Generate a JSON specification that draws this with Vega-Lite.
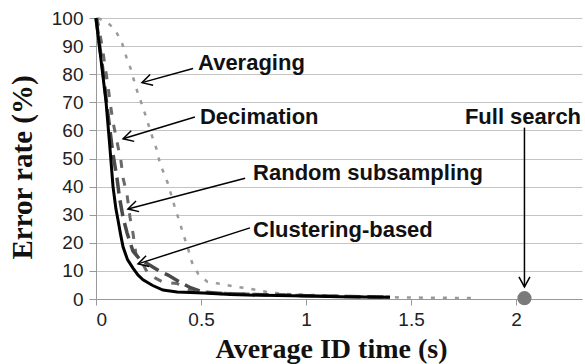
{
  "$schema": "https://vega.github.io/schema/vega-lite/v6.json",
  "width": 486,
  "height": 281,
  "autosize": {"type": "none"},
  "padding": {"left": 96, "top": 18, "right": 3, "bottom": 65},
  "background": "white",
  "config": {
    "view": {"stroke": null},
    "axis": {"labelFont": "Liberation Sans", "labelFontSize": 19, "labelColor": "#222", "titleFont": "Liberation Serif", "titleFontWeight": "bold", "titleColor": "#111", "domainColor": "#999", "tickColor": "#999", "gridColor": "#c4c4c4"},
    "axisX": {"titleFontSize": 28},
    "axisY": {"titleFontSize": 29}
  },
  "datasets": {
    "curves": [
      {"s": "Clustering-based", "t": 0, "e": 100}, {"s": "Clustering-based", "t": 0.024, "e": 85}, {"s": "Clustering-based", "t": 0.048, "e": 70}, {"s": "Clustering-based", "t": 0.065, "e": 55}, {"s": "Clustering-based", "t": 0.081, "e": 40}, {"s": "Clustering-based", "t": 0.095, "e": 32}, {"s": "Clustering-based", "t": 0.105, "e": 28}, {"s": "Clustering-based", "t": 0.117, "e": 23}, {"s": "Clustering-based", "t": 0.129, "e": 18.5}, {"s": "Clustering-based", "t": 0.15, "e": 14}, {"s": "Clustering-based", "t": 0.176, "e": 11}, {"s": "Clustering-based", "t": 0.2, "e": 8.5}, {"s": "Clustering-based", "t": 0.224, "e": 6.8}, {"s": "Clustering-based", "t": 0.27, "e": 4.8}, {"s": "Clustering-based", "t": 0.319, "e": 3.2}, {"s": "Clustering-based", "t": 0.386, "e": 2.5}, {"s": "Clustering-based", "t": 0.45, "e": 2.3}, {"s": "Clustering-based", "t": 0.51, "e": 2.1}, {"s": "Clustering-based", "t": 0.64, "e": 1.6}, {"s": "Clustering-based", "t": 0.8, "e": 1.3}, {"s": "Clustering-based", "t": 1.0, "e": 1.1}, {"s": "Clustering-based", "t": 1.16, "e": 0.8}, {"s": "Clustering-based", "t": 1.4, "e": 0.6},
      {"s": "Random subsampling", "t": 0, "e": 100}, {"s": "Random subsampling", "t": 0.03, "e": 83}, {"s": "Random subsampling", "t": 0.055, "e": 67}, {"s": "Random subsampling", "t": 0.08, "e": 52}, {"s": "Random subsampling", "t": 0.1, "e": 43}, {"s": "Random subsampling", "t": 0.112, "e": 36}, {"s": "Random subsampling", "t": 0.129, "e": 29}, {"s": "Random subsampling", "t": 0.148, "e": 23.5}, {"s": "Random subsampling", "t": 0.176, "e": 17}, {"s": "Random subsampling", "t": 0.21, "e": 14}, {"s": "Random subsampling", "t": 0.257, "e": 12}, {"s": "Random subsampling", "t": 0.3, "e": 10}, {"s": "Random subsampling", "t": 0.343, "e": 8.5}, {"s": "Random subsampling", "t": 0.4, "e": 6}, {"s": "Random subsampling", "t": 0.45, "e": 4}, {"s": "Random subsampling", "t": 0.51, "e": 2.5}, {"s": "Random subsampling", "t": 0.6, "e": 2}, {"s": "Random subsampling", "t": 0.8, "e": 1.5}, {"s": "Random subsampling", "t": 1.0, "e": 1.2}, {"s": "Random subsampling", "t": 1.2, "e": 0.9}, {"s": "Random subsampling", "t": 1.4, "e": 0.7},
      {"s": "Decimation", "t": 0.005, "e": 100}, {"s": "Decimation", "t": 0.029, "e": 90}, {"s": "Decimation", "t": 0.043, "e": 83}, {"s": "Decimation", "t": 0.057, "e": 76}, {"s": "Decimation", "t": 0.067, "e": 70}, {"s": "Decimation", "t": 0.081, "e": 63}, {"s": "Decimation", "t": 0.1, "e": 56}, {"s": "Decimation", "t": 0.119, "e": 49}, {"s": "Decimation", "t": 0.129, "e": 43}, {"s": "Decimation", "t": 0.148, "e": 37}, {"s": "Decimation", "t": 0.162, "e": 29}, {"s": "Decimation", "t": 0.176, "e": 23.5}, {"s": "Decimation", "t": 0.19, "e": 16}, {"s": "Decimation", "t": 0.219, "e": 13}, {"s": "Decimation", "t": 0.248, "e": 9}, {"s": "Decimation", "t": 0.281, "e": 7.5}, {"s": "Decimation", "t": 0.32, "e": 6}, {"s": "Decimation", "t": 0.386, "e": 5.5}, {"s": "Decimation", "t": 0.45, "e": 3}, {"s": "Decimation", "t": 0.55, "e": 2.2}, {"s": "Decimation", "t": 0.7, "e": 1.8}, {"s": "Decimation", "t": 0.9, "e": 1.4}, {"s": "Decimation", "t": 1.1, "e": 1.0}, {"s": "Decimation", "t": 1.4, "e": 0.7},
      {"s": "Averaging", "t": 0.01, "e": 100}, {"s": "Averaging", "t": 0.06, "e": 98}, {"s": "Averaging", "t": 0.09, "e": 96}, {"s": "Averaging", "t": 0.124, "e": 91}, {"s": "Averaging", "t": 0.145, "e": 86}, {"s": "Averaging", "t": 0.165, "e": 82}, {"s": "Averaging", "t": 0.18, "e": 78}, {"s": "Averaging", "t": 0.2, "e": 73}, {"s": "Averaging", "t": 0.215, "e": 70}, {"s": "Averaging", "t": 0.233, "e": 66}, {"s": "Averaging", "t": 0.25, "e": 62}, {"s": "Averaging", "t": 0.271, "e": 57}, {"s": "Averaging", "t": 0.29, "e": 53}, {"s": "Averaging", "t": 0.305, "e": 48}, {"s": "Averaging", "t": 0.322, "e": 45}, {"s": "Averaging", "t": 0.343, "e": 41}, {"s": "Averaging", "t": 0.362, "e": 36}, {"s": "Averaging", "t": 0.378, "e": 32}, {"s": "Averaging", "t": 0.4, "e": 27}, {"s": "Averaging", "t": 0.416, "e": 23}, {"s": "Averaging", "t": 0.438, "e": 18}, {"s": "Averaging", "t": 0.457, "e": 13}, {"s": "Averaging", "t": 0.486, "e": 9}, {"s": "Averaging", "t": 0.529, "e": 6.2}, {"s": "Averaging", "t": 0.59, "e": 5.4}, {"s": "Averaging", "t": 0.648, "e": 4.6}, {"s": "Averaging", "t": 0.7, "e": 4}, {"s": "Averaging", "t": 0.767, "e": 3.2}, {"s": "Averaging", "t": 0.819, "e": 2.4}, {"s": "Averaging", "t": 0.9, "e": 1.8}, {"s": "Averaging", "t": 1.0, "e": 1.5}, {"s": "Averaging", "t": 1.2, "e": 1.0}, {"s": "Averaging", "t": 1.4, "e": 0.6}, {"s": "Averaging", "t": 1.81, "e": 0.3}
    ],
    "labels": [
      {"label": "Averaging", "t": 0.486, "e": 84},
      {"label": "Decimation", "t": 0.495, "e": 64.8},
      {"label": "Random subsampling", "t": 0.748, "e": 45},
      {"label": "Clustering-based", "t": 0.748, "e": 24.6},
      {"label": "Full search", "t": 2.033, "e": 64.8}
    ],
    "arrows": [
      {"label": "Averaging", "t": 0.219, "e": 77, "t2": 0.462, "e2": 82},
      {"label": "Decimation", "t": 0.129, "e": 57, "t2": 0.471, "e2": 64.8},
      {"label": "Random subsampling", "t": 0.152, "e": 32, "t2": 0.71, "e2": 43},
      {"label": "Clustering-based", "t": 0.2, "e": 12.5, "t2": 0.733, "e2": 25.3},
      {"label": "Full search", "t": 2.04, "e": 4.3, "t2": 2.04, "e2": 61}
    ],
    "points": [
      {"label": "Full search", "t": 2.04, "e": 0.3}
    ]
  },
  "encoding": {
    "x": {"field": "t", "type": "quantitative", "scale": {"domain": [0, 2.314], "nice": false}, "axis": {"values": [0, 0.5, 1, 1.5, 2], "format": "~g", "grid": false, "tickSize": 6, "labelPadding": 5, "title": "Average ID time (s)", "titlePadding": 6, "titleX": 235}},
    "y": {"field": "e", "type": "quantitative", "scale": {"domain": [0, 100], "nice": false}, "axis": {"values": [0, 10, 20, 30, 40, 50, 60, 70, 80, 90, 100], "labelOverlap": false, "grid": true, "tickSize": 7, "labelPadding": 6, "title": "Error rate (%)", "titlePadding": 14, "titleY": 149}}
  },
  "layer": [
    {
      "data": {"name": "curves"},
      "transform": [{"filter": "datum.s === 'Averaging'"}],
      "mark": {"type": "line", "color": "#9a9a9a", "strokeWidth": 2.5, "strokeDash": [4, 8]}
    },
    {
      "data": {"name": "curves"},
      "transform": [{"filter": "datum.s === 'Decimation'"}],
      "mark": {"type": "line", "color": "#6a6a6a", "strokeWidth": 3, "strokeDash": [8, 10]}
    },
    {
      "data": {"name": "curves"},
      "transform": [{"filter": "datum.s === 'Random subsampling'"}],
      "mark": {"type": "line", "color": "#4a4a4a", "strokeWidth": 3.5, "strokeDash": [16, 7]}
    },
    {
      "data": {"name": "curves"},
      "transform": [{"filter": "datum.s === 'Clustering-based'"}],
      "mark": {"type": "line", "color": "#000000", "strokeWidth": 3}
    },
    {
      "data": {"name": "arrows"},
      "mark": {"type": "rule", "color": "#000", "strokeWidth": 1.5},
      "encoding": {"x2": {"field": "t2"}, "y2": {"field": "e2"}}
    },
    {
      "data": {"name": "arrows"},
      "transform": [{"filter": "datum.label !== 'Full search'"}],
      "mark": {"type": "point", "shape": "M -1 -0.55 L 0 0 L -1 0.55", "filled": false, "stroke": "#000", "strokeWidth": 1.5, "size": 400, "angle": 164, "opacity": 1}
    },
    {
      "data": {"name": "arrows"},
      "transform": [{"filter": "datum.label === 'Full search'"}],
      "mark": {"type": "point", "shape": "M -1 -0.55 L 0 0 L -1 0.55", "filled": false, "stroke": "#000", "strokeWidth": 1.5, "size": 400, "angle": 90, "opacity": 1}
    },
    {
      "data": {"name": "points"},
      "mark": {"type": "point", "shape": "circle", "filled": true, "color": "#7a7a7a", "size": 200, "opacity": 1}
    },
    {
      "data": {"name": "labels"},
      "transform": [{"filter": "datum.label !== 'Full search'"}],
      "mark": {"type": "text", "align": "left", "baseline": "middle", "font": "Liberation Sans", "fontWeight": "bold", "fontSize": 22, "color": "#111"},
      "encoding": {"text": {"field": "label"}}
    },
    {
      "data": {"name": "labels"},
      "transform": [{"filter": "datum.label === 'Full search'"}],
      "mark": {"type": "text", "align": "center", "baseline": "middle", "font": "Liberation Sans", "fontWeight": "bold", "fontSize": 22, "color": "#111"},
      "encoding": {"text": {"field": "label"}}
    }
  ]
}
